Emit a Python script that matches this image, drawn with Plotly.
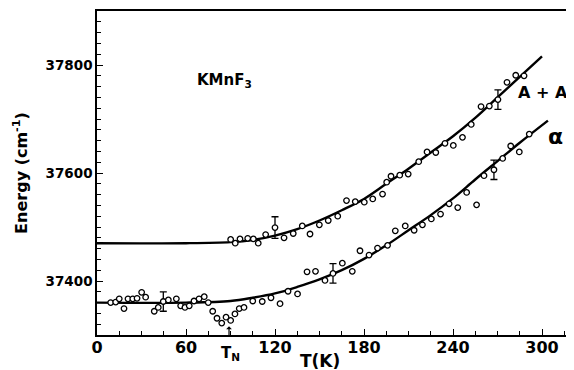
import plotly.graph_objects as go

# ---- fitted curves ----
curve_T_AA = [0, 60, 90, 105, 120, 135, 150, 165, 180, 195, 210, 225, 240, 255, 270, 285, 300]
curve_E_AA = [37470, 37470, 37472, 37476, 37484, 37496, 37512, 37531, 37552, 37580, 37608,
              37638, 37668, 37702, 37740, 37778, 37816]
curve_T_alpha = [0, 60, 90, 105, 120, 135, 150, 165, 180, 195, 210, 225, 240, 255, 270, 285, 304]
curve_E_alpha = [37360, 37360, 37363, 37369, 37377, 37389, 37403, 37420, 37441, 37466, 37494,
                 37522, 37553, 37588, 37622, 37656, 37697]

# ---- measured points: A + A ----
AA_T = [90.1, 93.2, 96.4, 101.6, 105.4, 108.7, 113.7, 120.0, 126.1, 132.3, 138.4, 143.6, 149.9,
        155.9, 162.3, 168.2, 174.1, 180.2, 185.9, 192.5, 195.3, 198.2, 204.1, 209.8, 216.9, 222.5,
        228.4, 234.6, 240.2, 246.4, 252.3, 258.9, 264.5, 270.3, 276.4, 282.3, 287.9]
AA_E = [37477, 37470, 37478, 37479, 37478, 37470, 37486, 37499, 37480, 37488, 37502, 37487, 37504,
        37512, 37520, 37549, 37547, 37546, 37552, 37561, 37583, 37594, 37596, 37598, 37621, 37639,
        37638, 37655, 37651, 37666, 37690, 37723, 37724, 37736, 37768, 37781, 37780]
AA_err_T = [120.0, 270.3]
AA_err_E = [37499, 37736]
AA_err = [20, 18]

# ---- measured points: alpha ----
alpha_T = [9.2, 12.6, 15.0, 18.2, 20.9, 24.1, 27.0, 30.1, 32.8, 38.6, 41.3, 44.7, 48.1, 53.5, 56.4,
           59.3, 62.2, 65.4, 68.8, 72.3, 75.0, 78.0, 80.9, 84.1, 87.0, 90.1, 93.0, 95.9, 99.1, 105.0,
           111.4, 117.3, 123.4, 128.8, 135.2, 141.6, 147.3, 153.7, 159.1, 165.4, 172.1, 177.3, 183.4,
           189.1, 195.9, 201.1, 207.8, 213.8, 219.4, 225.4, 231.6, 237.4, 243.2, 249.2, 255.9, 260.9,
           267.6, 273.5, 278.9, 284.7, 291.4]
alpha_E = [37360, 37361, 37367, 37349, 37367, 37367, 37368, 37379, 37370, 37344, 37351, 37362, 37365,
           37367, 37354, 37351, 37354, 37363, 37367, 37371, 37360, 37344, 37331, 37322, 37333, 37327,
           37339, 37349, 37351, 37363, 37362, 37369, 37358, 37381, 37376, 37417, 37418, 37401, 37414,
           37433, 37418, 37456, 37448, 37461, 37466, 37493, 37502, 37494, 37504, 37515, 37524, 37543,
           37536, 37564, 37541, 37595, 37606, 37627, 37650, 37639, 37672]
alpha_err_T = [44.7, 159.1, 267.6]
alpha_err_E = [37362, 37414, 37606]
alpha_err = [18, 18, 18]

x_ticks = [0, 60, 120, 180, 240, 300]
y_ticks = [37400, 37600, 37800]

FONT = "DejaVu Sans"
marker = dict(symbol="circle", size=5.5, color="white", line=dict(width=1.3, color="black"))

fig = go.Figure()
fig.add_trace(go.Scatter(x=curve_T_AA, y=curve_E_AA, mode="lines", line=dict(color="black", width=2.4, shape="spline"), hoverinfo="skip"))
fig.add_trace(go.Scatter(x=curve_T_alpha, y=curve_E_alpha, mode="lines", line=dict(color="black", width=2.4, shape="spline"), hoverinfo="skip"))
fig.add_trace(go.Scatter(x=AA_err_T, y=AA_err_E, mode="markers", marker=dict(size=1, color="black"),
                         error_y=dict(type="data", array=AA_err, color="black", thickness=1.3, width=3.5)))
fig.add_trace(go.Scatter(x=alpha_err_T, y=alpha_err_E, mode="markers", marker=dict(size=1, color="black"),
                         error_y=dict(type="data", array=alpha_err, color="black", thickness=1.3, width=3.5)))
fig.add_trace(go.Scatter(x=AA_T, y=AA_E, mode="markers", marker=marker))
fig.add_trace(go.Scatter(x=alpha_T, y=alpha_E, mode="markers", marker=marker))

# labels
fig.add_annotation(x=66, y=37772, text="KMnF<sub>3</sub>", showarrow=False, xanchor="left",
                   font=dict(family=FONT, size=15, color="black", weight="bold"))
fig.add_annotation(x=300.7, y=37750, text="A + A", showarrow=False,
                   font=dict(family=FONT, size=16, color="black", weight="bold"))
fig.add_annotation(x=308.8, y=37668, text="α", showarrow=False,
                   font=dict(family=FONT, size=22, color="black", weight="bold"))
# T_N marker
fig.add_annotation(x=89, y=37316, ax=0, ay=12, text="", showarrow=True, arrowhead=1,
                   arrowsize=0.8, arrowwidth=1.2, arrowcolor="black")
fig.add_annotation(x=90, y=-0.022, yref="paper", yanchor="top", text="T<sub>N</sub>", showarrow=False,
                   font=dict(family=FONT, size=15, color="black", weight="bold"))
# axis titles
fig.add_annotation(x=0.469, xref="paper", xanchor="center", y=-0.08, yref="paper", yanchor="middle",
                   text="T(K)", showarrow=False,
                   font=dict(family=FONT, size=17, color="black", weight="bold"))
fig.add_annotation(x=-0.162, xref="paper", xanchor="center", y=0.5, yref="paper", yanchor="middle",
                   text="Energy (cm<sup>-1</sup>)", textangle=-90, showarrow=False,
                   font=dict(family=FONT, size=16, color="black", weight="bold"))

# page body has an 8px margin, so the figure is 8px smaller and its margins are shifted
fig.update_layout(
    width=566, height=362,
    margin=dict(l=89, r=1, t=3, b=35, autoexpand=False),
    paper_bgcolor="white", plot_bgcolor="white",
    showlegend=False,
    xaxis=dict(range=[0, 320.9], tickvals=x_ticks, ticks="inside", ticklen=6, tickwidth=1.2,
               tickcolor="black", showline=True, linecolor="black", linewidth=1.5, mirror=True,
               showgrid=False, zeroline=False, automargin=False, ticklabelstandoff=-3,
               minor=dict(dtick=15, ticks="inside", ticklen=4, tickcolor="black", tickwidth=1),
               tickfont=dict(family=FONT, size=16, color="black", weight="bold")),
    yaxis=dict(range=[37300, 37900], tickvals=y_ticks, tickformat="d", ticks="inside", ticklen=6,
               tickwidth=1.2, tickcolor="black", showline=True, linecolor="black", linewidth=1.5,
               showgrid=False, zeroline=False, automargin=False,
               minor=dict(dtick=20, tick0=37300, ticks="inside", ticklen=4, tickcolor="black", tickwidth=1),
               tickfont=dict(family=FONT, size=13.5, color="black", weight="bold")),
)

fig.write_html("out.html")
